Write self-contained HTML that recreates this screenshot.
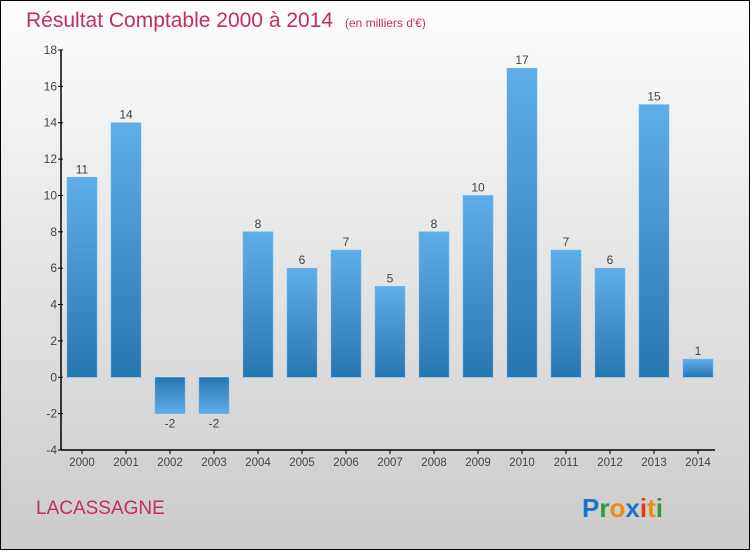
<!DOCTYPE html>
<html><head><meta charset="utf-8">
<style>
html,body{margin:0;padding:0}
body{width:750px;height:550px;overflow:hidden;font-family:"Liberation Sans",sans-serif}
</style></head>
<body>
<svg width="750" height="550" xmlns="http://www.w3.org/2000/svg" id="chart">
<defs>
<linearGradient id="bg" x1="0" y1="0" x2="0" y2="1"><stop offset="0" stop-color="#fdfdfd"/><stop offset="1" stop-color="#cbcbcb"/></linearGradient>
<linearGradient id="gpos" x1="0" y1="0" x2="0" y2="1"><stop offset="0" stop-color="#5eaee9"/><stop offset="1" stop-color="#2876b1"/></linearGradient>
<linearGradient id="gneg" x1="0" y1="0" x2="0" y2="1"><stop offset="0" stop-color="#2876b1"/><stop offset="1" stop-color="#5eaee9"/></linearGradient>
</defs>
<rect x="0.5" y="0.5" width="749" height="549" fill="url(#bg)" stroke="#000"/>
<text x="26" y="27" font-size="21" fill="#c0305e">Résultat Comptable 2000 à 2014 <tspan font-size="12" dx="6">(en milliers d'€)</tspan></text>
<g id="bars"></g>
<g id="axes"></g>
<text x="36" y="514" font-size="19" fill="#c0305e">LACASSAGNE</text>
<text x="582" y="517" font-size="26" font-weight="bold"><tspan fill="#1a73c8">P</tspan><tspan fill="#2f9a3a">r</tspan><tspan fill="#f08a12">o</tspan><tspan fill="#1a73c8">x</tspan><tspan fill="#e03a1a">i</tspan><tspan fill="#f08a12">t</tspan><tspan fill="#2f9a3a">i</tspan></text>
</svg>
<script>
const years = ["2000","2001","2002","2003","2004","2005","2006","2007","2008","2009","2010","2011","2012","2013","2014"];
const values = [11,14,-2,-2,8,6,7,5,8,10,17,7,6,15,1];
const yTicks = [-4,-2,0,2,4,6,8,10,12,14,16,18];
const NS="http://www.w3.org/2000/svg";
const yMin=-4,yMax=18,plotTop=50,plotBottom=450,plotLeft=61,step=44,barW=30;
function yPos(v){return plotBottom-(v-yMin)/(yMax-yMin)*(plotBottom-plotTop);}
function xc(i){return 82+i*step;}
function mk(t,a,p){const e=document.createElementNS(NS,t);for(const k in a)e.setAttribute(k,a[k]);p.appendChild(e);return e;}
const barsG=document.getElementById('bars'),axesG=document.getElementById('axes');
values.forEach((v,i)=>{
  const y1=Math.min(yPos(v),yPos(0)),h=Math.abs(yPos(v)-yPos(0));
  const r=mk('rect',{x:xc(i)-barW/2,y:y1,width:barW,height:h,fill:v>=0?'url(#gpos)':'url(#gneg)',stroke:'#6ab6ee','stroke-width':0.5},barsG);
  
  
  const t=mk('text',{x:xc(i),y:v>=0?yPos(v)-4:yPos(v)+14,'font-size':12,fill:'#444','text-anchor':'middle'},barsG);
  t.textContent=String(v);
  
  
});
const ya=mk('line',{x1:plotLeft,y1:plotTop,x2:plotLeft,y2:plotBottom,stroke:'#000','stroke-width':1.5},axesG);


const xa=mk('line',{x1:plotLeft,y1:plotBottom,x2:715,y2:plotBottom,stroke:'#000','stroke-width':1.5},axesG);


yTicks.forEach(v=>{
  mk('line',{x1:plotLeft-3,y1:yPos(v),x2:plotLeft+2,y2:yPos(v),stroke:'#000'},axesG);
  const t=mk('text',{x:plotLeft-4,y:yPos(v)+4,'font-size':12,fill:'#444','text-anchor':'end'},axesG);
  t.textContent=String(v);
  
  
});
years.forEach((yr,i)=>{
  mk('line',{x1:xc(i),y1:plotBottom,x2:xc(i),y2:plotBottom+4,stroke:'#000'},axesG);
  const t=mk('text',{x:xc(i),y:plotBottom+16,'font-size':11.5,fill:'#444','text-anchor':'middle'},axesG);
  t.textContent=yr;
  
  
});
</script>
</body></html>
